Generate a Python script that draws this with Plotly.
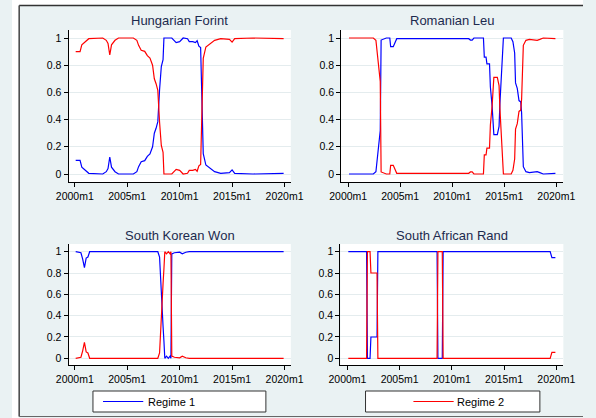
import plotly.graph_objects as go

# ---------------- data ----------------
titles = ["Hungarian Forint", "Romanian Leu", "South Korean Won", "South African Rand"]

hu_dates = ["2000m2", "2000m7", "2000m9", "2001m1", "2001m5", "2002m9", "2003m1", "2003m3",
            "2003m5", "2003m7", "2003m11", "2004m3", "2005m8", "2005m12", "2006m2", "2006m5",
            "2006m9", "2006m12", "2007m3", "2007m6", "2007m8", "2007m10", "2007m12", "2008m2",
            "2008m4", "2008m6", "2008m7", "2009m4", "2009m9", "2010m1", "2010m5", "2010m10",
            "2010m12", "2011m4", "2011m7", "2011m9", "2011m11", "2012m1", "2012m3", "2012m4",
            "2012m7", "2012m12", "2013m5", "2013m12", "2014m10", "2015m1", "2015m4", "2017m1",
            "2019m12"]
hu_regime1 = [0.10, 0.10, 0.05, 0.03, 0.005, 0.0, 0.017, 0.04, 0.125, 0.05, 0.017, 0.0, 0.0,
              0.017, 0.054, 0.09, 0.098, 0.13, 0.147, 0.20, 0.30, 0.336, 0.385, 0.62, 0.79,
              0.84, 1.0, 1.0, 0.966, 0.973, 1.0, 0.995, 0.973, 0.973, 0.966, 0.98, 0.94, 0.93,
              0.45, 0.15, 0.066, 0.04, 0.017, 0.005, 0.01, 0.03, 0.005, 0.0, 0.005]
hu_regime2 = [0.90, 0.90, 0.95, 0.97, 0.995, 1.0, 0.983, 0.96, 0.875, 0.95, 0.983, 1.0, 1.0,
              0.983, 0.946, 0.91, 0.902, 0.87, 0.853, 0.80, 0.70, 0.664, 0.615, 0.38, 0.21,
              0.16, 0.0, 0.0, 0.034, 0.027, 0.0, 0.005, 0.027, 0.027, 0.034, 0.02, 0.06, 0.07,
              0.55, 0.85, 0.934, 0.96, 0.983, 0.995, 0.99, 0.97, 0.995, 1.0, 0.995]

ro_dates = ["2000m2", "2002m6", "2002m9", "2002m10", "2002m12", "2003m2", "2003m3", "2003m6",
            "2003m9", "2004m1", "2004m2", "2004m5", "2004m7", "2004m9", "2011m8", "2011m10",
            "2011m12", "2012m2", "2013m1", "2013m2", "2013m4", "2013m5", "2013m8", "2013m9",
            "2013m11", "2014m1", "2014m5", "2014m7", "2014m8", "2014m10", "2014m12", "2015m9",
            "2015m11", "2016m1", "2016m2", "2016m4", "2016m6", "2016m8", "2016m9", "2016m11",
            "2017m2", "2017m6", "2018m3", "2018m6", "2018m10", "2019m12"]
ro_regime1 = [0.0, 0.0, 0.017, 0.08, 0.2, 0.32, 0.985, 0.99, 1.0, 1.0, 0.936, 0.936, 0.96,
              0.995, 0.995, 0.985, 0.985, 1.0, 1.0, 0.86, 0.86, 0.81, 0.81, 0.64, 0.5, 0.29,
              0.29, 0.35, 0.52, 0.765, 1.0, 1.0, 0.973, 0.89, 0.67, 0.63, 0.54, 0.53, 0.45,
              0.054, 0.017, 0.01, 0.017, 0.01, 0.0, 0.005]
ro_regime2 = [1.0, 1.0, 0.983, 0.92, 0.8, 0.68, 0.015, 0.01, 0.0, 0.0, 0.064, 0.064, 0.04,
              0.005, 0.005, 0.015, 0.015, 0.0, 0.0, 0.14, 0.14, 0.19, 0.19, 0.36, 0.5, 0.71,
              0.71, 0.65, 0.48, 0.235, 0.0, 0.0, 0.027, 0.11, 0.33, 0.37, 0.46, 0.47, 0.55,
              0.946, 0.983, 0.99, 0.983, 0.99, 1.0, 0.995]

ko_dates = ["2000m2", "2000m8", "2000m10", "2000m12", "2001m2", "2001m4", "2001m6", "2007m12",
            "2008m2", "2008m3", "2008m4", "2008m5", "2008m6", "2008m7", "2008m8", "2008m10",
            "2008m12", "2009m2", "2009m3", "2009m4", "2009m7", "2010m1", "2010m4", "2010m8",
            "2010m12", "2019m12"]
ko_regime1 = [1.0, 0.99, 0.93, 0.85, 0.94, 0.95, 1.0, 1.0, 0.95, 0.76, 0.70, 0.35, 0.30, 0.16,
              0.0, 0.02, 0.0, 0.02, 0.0, 0.98, 0.99, 0.995, 0.98, 0.995, 1.0, 1.0]
ko_regime2 = [0.0, 0.01, 0.07, 0.15, 0.06, 0.05, 0.0, 0.0, 0.05, 0.24, 0.30, 0.65, 0.70, 0.84,
              1.0, 0.98, 1.0, 0.98, 1.0, 0.02, 0.01, 0.005, 0.02, 0.005, 0.0, 0.0]

sa_dates = ["2000m2", "2001m11", "2001m12", "2002m3", "2002m4", "2002m11", "2002m12",
            "2008m8", "2008m9", "2009m2", "2009m3", "2019m6", "2019m8", "2019m12"]
sa_regime1 = [1.0, 1.0, 0.0, 0.0, 0.2, 0.2, 1.0, 1.0, 0.0, 0.0, 1.0, 1.0, 0.945, 0.945]
sa_regime2 = [0.0, 0.0, 1.0, 1.0, 0.8, 0.8, 0.0, 0.0, 1.0, 1.0, 0.0, 0.0, 0.055, 0.055]

x_tick_vals = [2000, 2005, 2010, 2015, 2020]
x_tick_text = ["2000m1", "2005m1", "2010m1", "2015m1", "2020m1"]
y_tick_vals = [0, 0.2, 0.4, 0.6, 0.8, 1]
y_tick_text = ["0", "0.2", "0.4", "0.6", "0.8", "1"]
legend_names = ["Regime 1", "Regime 2"]

# ---------------- helpers ----------------
W, H = 596, 418
FONT = "Liberation Sans, Arial, sans-serif"
BLUE, RED = "#0000FF", "#FF0000"
BG = "#EAF2F3"
GRID = "#E4ECEE"


def to_year(s):
    y, m = s.split("m")
    return int(y) + (int(m) - 1) / 12.0


def px(x):
    return x / W


def py(y):
    return 1 - y / H


panels = [
    (hu_dates, hu_regime1, hu_regime2, (59, 291), (30, 182), 0.60),
    (ro_dates, ro_regime1, ro_regime2, (343.5, 575.5), (30, 182), 0.68),
    (ko_dates, ko_regime1, ko_regime2, (59, 291), (244, 365), 0.60),
    (sa_dates, sa_regime1, sa_regime2, (342.7, 575.5), (244, 365), 0.68),
]

fig = go.Figure()
layout = {}
annotations = []

for i, (dates, r1, r2, (x0, x1), (y0, y1), pad) in enumerate(panels):
    n = i + 1
    xs = [to_year(d) for d in dates]
    xa = "x" if n == 1 else f"x{n}"
    ya = "y" if n == 1 else f"y{n}"
    fig.add_trace(go.Scatter(x=xs, y=r1, mode="lines", line=dict(color=BLUE, width=1.2),
                             xaxis=xa, yaxis=ya, showlegend=False, name=legend_names[0]))
    fig.add_trace(go.Scatter(x=xs, y=r2, mode="lines", line=dict(color=RED, width=1.2),
                             xaxis=xa, yaxis=ya, showlegend=False, name=legend_names[1]))
    if y0 == 30:
        yr = [-8 / 136, 1 + 8 / 136]
    else:
        yr = [-6.7 / 106.6, 1 + 7.7 / 106.6]
    layout["xaxis" if n == 1 else f"xaxis{n}"] = dict(
        domain=[px(x0), px(x1)], anchor=ya, range=[2000 - pad, 2020 + pad],
        tickvals=x_tick_vals, ticktext=x_tick_text, ticks="outside", ticklen=4,
        tickcolor="#000", showline=True, linecolor="#000", linewidth=1,
        showgrid=False, zeroline=False,
        tickfont=dict(family=FONT, size=10.5, color="#000"))
    layout["yaxis" if n == 1 else f"yaxis{n}"] = dict(
        domain=[py(y1), py(y0)], anchor=xa, range=yr,
        tickvals=y_tick_vals, ticktext=y_tick_text, ticks="outside", ticklen=4,
        tickcolor="#000", showline=True, linecolor="#000", linewidth=1,
        showgrid=True, gridcolor=GRID, gridwidth=1, zeroline=False,
        tickfont=dict(family=FONT, size=10.5, color="#000"))
    annotations.append(dict(
        text=titles[i], xref="paper", yref="paper", x=px((x0 + x1) / 2),
        y=py(y0 - 9), xanchor="center", yanchor="middle", showarrow=False,
        font=dict(family=FONT, size=13, color="#1C2A4E")))

shapes = [
    # white strips outside the graph-region frame
    dict(type="rect", xref="paper", yref="paper", x0=0, x1=px(7), y0=0, y1=1,
         fillcolor="white", line=dict(width=0)),
    dict(type="rect", xref="paper", yref="paper", x0=0, x1=1, y0=py(5), y1=1,
         fillcolor="white", line=dict(width=0)),
    # frame lines
    dict(type="line", xref="paper", yref="paper", x0=px(7.5), x1=1, y0=py(5.5), y1=py(5.5),
         line=dict(color="#333", width=1.5)),
    dict(type="line", xref="paper", yref="paper", x0=px(7.5), x1=px(7.5), y0=py(5.5),
         y1=py(416.5), line=dict(color="#444", width=1.5)),
    dict(type="line", xref="paper", yref="paper", x0=px(7.5), x1=1, y0=py(416.5),
         y1=py(416.5), line=dict(color="#666", width=1.2)),
    # legend boxes
    dict(type="rect", xref="paper", yref="paper", x0=px(84.5), x1=px(265), y0=py(412),
         y1=py(391), fillcolor="white", line=dict(color="#333", width=1)),
    dict(type="rect", xref="paper", yref="paper", x0=px(369), x1=px(551), y0=py(412),
         y1=py(391), fillcolor="white", line=dict(color="#333", width=1)),
    # legend keys
    dict(type="line", xref="paper", yref="paper", x0=px(95), x1=px(137), y0=py(401.5),
         y1=py(401.5), line=dict(color=BLUE, width=1.2)),
    dict(type="line", xref="paper", yref="paper", x0=px(419), x1=px(461), y0=py(401.5),
         y1=py(401.5), line=dict(color=RED, width=1.2)),
]
annotations.append(dict(text=legend_names[0], xref="paper", yref="paper", x=px(139.5),
                        y=py(401.5), xanchor="left", yanchor="middle", showarrow=False,
                        font=dict(family=FONT, size=11, color="#000")))
annotations.append(dict(text=legend_names[1], xref="paper", yref="paper", x=px(462.5),
                        y=py(401.5), xanchor="left", yanchor="middle", showarrow=False,
                        font=dict(family=FONT, size=11, color="#000")))

fig.update_layout(
    width=W, height=H, margin=dict(l=0, r=0, t=0, b=0),
    paper_bgcolor=BG, plot_bgcolor="white",
    shapes=shapes, annotations=annotations, showlegend=False,
    **layout)

fig.write_html("out.html", config={"displayModeBar": False},
               post_script="document.body.style.margin='0';document.body.style.overflow='hidden';")
